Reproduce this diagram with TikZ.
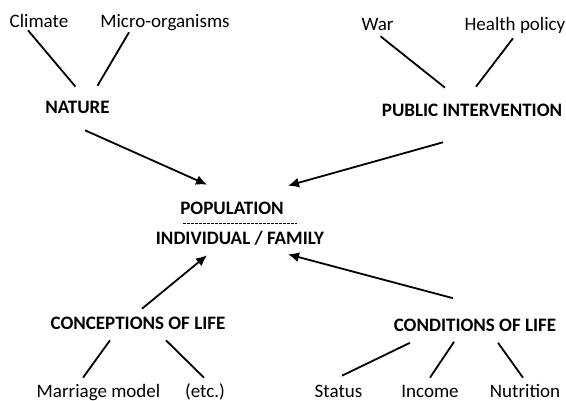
\documentclass[tikz,border=0pt]{standalone}
\usepackage{fontspec}
\setmainfont{Carlito}
\usetikzlibrary{arrows.meta}

\tikzset{
	lbl/.style={inner sep=0pt, text height=12.2pt, text depth=0pt, font=\fontsize{19}{22}\selectfont},
	hd/.style={lbl, font=\fontsize{19}{22}\selectfont\bfseries},
	link/.style={line width=1.8pt},
	arr/.style={line width=1.8pt, -{Latex[length=11pt,width=10pt]}},
	sepline/.style={line width=0.8pt, dash pattern=on 2.6pt off 1.4pt}
}

\begin{document}
\begin{tikzpicture}[x=1pt, y=-1pt]
		\useasboundingbox (0,0) rectangle (566,401);

		%NATURE
		\node[lbl] (climate) at (39,21) {Climate};
		\node[lbl] (micro) at (165,21) {Micro-organisms};
		\node[hd] (nature) at (77.5,107) {NATURE};
		\draw[link] ([xshift=-11pt,yshift=-3pt]climate.south) -- ([xshift=-2pt,yshift=14pt]nature.north);
		\draw[link] ([xshift=-36pt,yshift=-5pt]micro.south) -- ([xshift=20pt,yshift=15pt]nature.north);

		%PUBLIC INTERVENTION
		\node[lbl] (war) at (377.5,24) {War};
		\node[lbl] (health) at (515,24) {Health policy};
		\node[hd] (public) at (472,110) {PUBLIC INTERVENTION};
		\draw[link] ([xshift=3pt,yshift=-6pt]war.south) -- ([xshift=-27pt,yshift=16pt]public.north);
		\draw[link] ([xshift=-2pt,yshift=-8pt]health.south) -- ([xshift=4pt,yshift=17pt]public.north);

		%POPULATION / INDIVIDUAL
		\node[hd] (pop) at (232,208) {POPULATION};
		\node[hd] (indiv) at (240,238) {INDIVIDUAL / FAMILY};
		\coordinate (sepL) at (183,223);
		\coordinate (sepR) at (297,223);
		\draw[sepline] (sepL) -- (sepR);

		\draw[arr] ([xshift=7.5pt,yshift=-17pt]nature.south) -- ([xshift=-25pt,yshift=17pt]pop.north);
		\draw[arr] ([xshift=-29pt,yshift=-26pt]public.south) -- ([xshift=56pt,yshift=16pt]pop.north);

		%CONCEPTIONS OF LIFE
		\node[hd] (concept) at (138,323) {CONCEPTIONS OF LIFE};
		\node[lbl] (marriage) at (98.5,391) {Marriage model};
		\node[lbl] (etc) at (205,391) {(etc.)};
		\draw[arr] ([xshift=4pt,yshift=8pt]concept.north) -- ([xshift=-33pt,yshift=-11pt]indiv.south);
		\draw[link] ([xshift=-28pt,yshift=-11pt]concept.south) -- ([xshift=-15.5pt,yshift=7pt]marriage.north);
		\draw[link] ([xshift=28pt,yshift=-11pt]concept.south) -- ([xshift=-1pt,yshift=7pt]etc.north);

		%CONDITIONS OF LIFE
		\node[hd] (cond) at (475,325.5) {CONDITIONS OF LIFE};
		\node[lbl] (status) at (338.5,391) {Status};
		\node[lbl] (income) at (430,391) {Income};
		\node[lbl] (nutrition) at (525,391) {Nutrition};
		\draw[arr] ([xshift=-22pt,yshift=21pt]cond.north) -- ([xshift=48pt,yshift=-10pt]indiv.south);
		\draw[link] ([xshift=-65pt,yshift=-11pt]cond.south) -- ([xshift=3.5pt,yshift=9pt]status.north);
		\draw[link] ([xshift=-21pt,yshift=-10pt]cond.south) -- ([xshift=0pt,yshift=7pt]income.north);
		\draw[link] ([xshift=23pt,yshift=-11pt]cond.south) -- ([xshift=-2pt,yshift=7pt]nutrition.north);
	\end{tikzpicture}
\end{document}
